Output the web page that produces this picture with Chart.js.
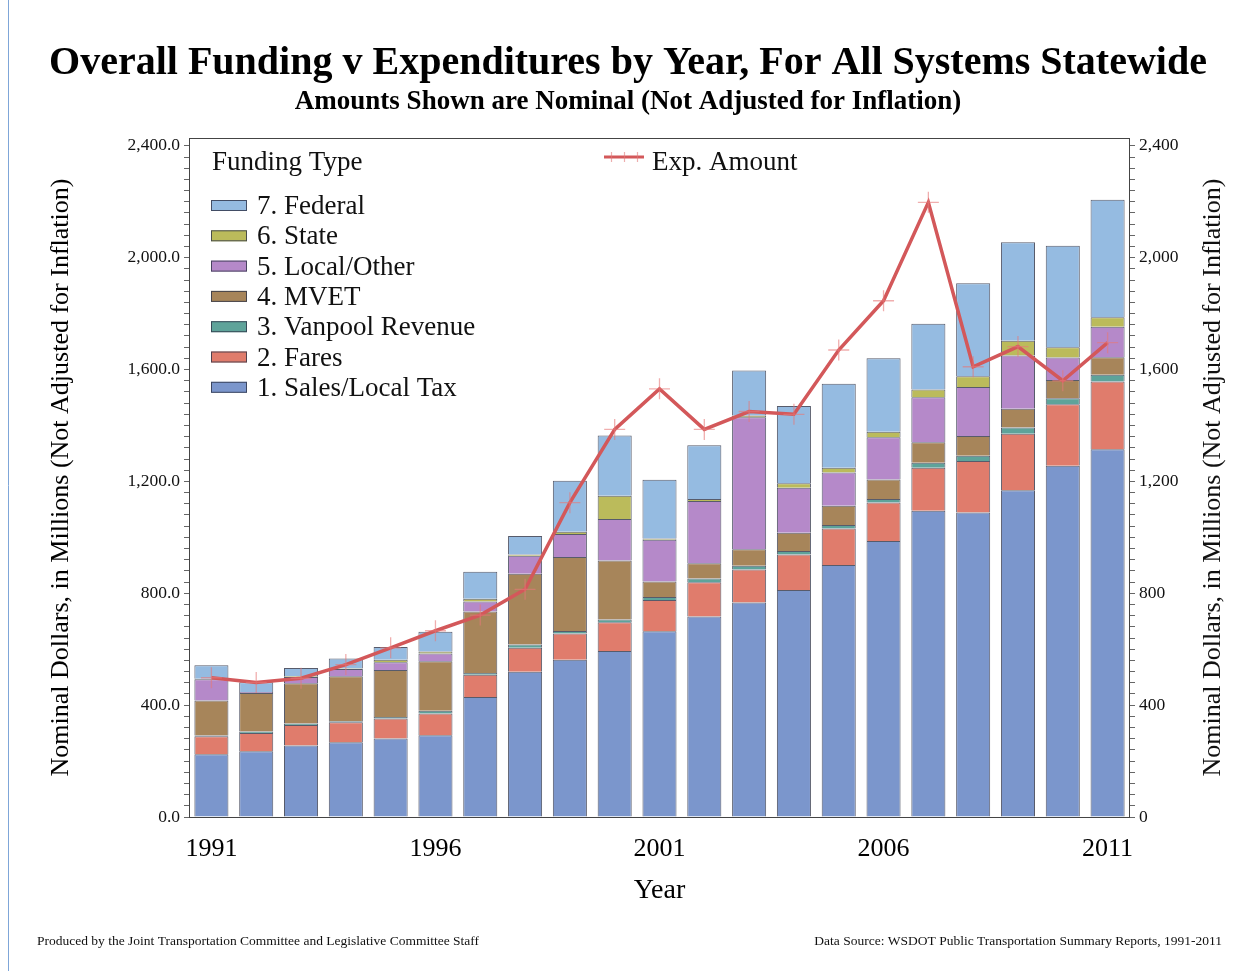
<!DOCTYPE html>
<html>
<head>
<meta charset="utf-8">
<script src="https://cdn.jsdelivr.net/npm/chart.js@4.4.0/dist/chart.umd.min.js"></script>
<style>
  html, body { margin: 0; padding: 0; background: #fff; }
  #wrap { width: 1256px; height: 971px; position: relative; }
</style>
</head>
<body>
<div id="wrap"><canvas id="fundingChart" width="1256" height="971"></canvas></div>
<script>
// values in $ millions
const years = [1991, 1992, 1993, 1994, 1995, 1996, 1997, 1998, 1999, 2000, 2001,
               2002, 2003, 2004, 2005, 2006, 2007, 2008, 2009, 2010, 2011];
const salesTax = [224, 235, 256, 267, 281, 292, 429, 519, 562, 594, 664, 717, 767, 812, 901, 987, 1095, 1089, 1168, 1256, 1315];
const fares    = [65, 65, 73, 72, 71, 78, 80, 86, 94, 102, 112, 122, 118, 127, 131, 138, 154, 184, 202, 220, 242];
const vanpool  = [2, 6, 5, 3, 6, 10, 6, 12, 9, 10, 11, 14, 13, 12, 12, 12, 18, 19, 23, 21, 24];
const mvet     = [126, 137, 144, 161, 168, 177, 220, 253, 265, 211, 55, 54, 59, 65, 69, 70, 73, 70, 67, 66, 63];
const localOther = [76, 4, 23, 26, 27, 28, 36, 64, 82, 149, 149, 223, 472, 161, 119, 151, 161, 176, 190, 80, 109];
const stateFund  = [1, 0, 2, 2, 9, 7, 9, 5, 8, 83, 5, 7, 7, 16, 17, 20, 28, 38, 53, 37, 34];
const federal    = [49, 35, 30, 36, 46, 70, 97, 66, 182, 215, 210, 192, 161, 277, 300, 262, 235, 333, 352, 363, 420];
const expAmount  = [498, 481, 496, 545, 605, 666, 722, 814, 1124, 1386, 1531, 1386, 1450, 1440, 1670, 1846, 2198, 1610, 1682, 1560, 1696];

const yMajorTicks = [0, 400, 800, 1200, 1600, 2000, 2400];
const yMinorStep = 40;
const yMax = 2428;
const xLabelYears = [1991, 1996, 2001, 2006, 2011];

const serif = "'Liberation Serif', 'Times New Roman', serif";
const barBorder = 'rgba(45,50,70,0.8)';

function barSet(label, data, color) {
  return {
    type: 'bar', label: label, data: data,
    backgroundColor: color, borderColor: barBorder, borderWidth: 1,
    barPercentage: 0.76, categoryPercentage: 1.0, order: 2, yAxisID: 'y'
  };
}

function buildTicks(scale) {
  const ticks = [];
  for (let v = 0; v <= yMajorTicks[yMajorTicks.length - 1]; v += yMinorStep) ticks.push({ value: v });
  scale.ticks = ticks;
}

// frame, legend, right axis title and footer notes
const decorPlugin = {
  id: 'decor',
  afterDraw(chart) {
    const ctx = chart.ctx;
    const a = chart.chartArea;
    ctx.save();
    ctx.strokeStyle = '#444';
    ctx.lineWidth = 1;
    ctx.strokeRect(a.left + 0.5, a.top + 0.5, a.right - a.left - 1, a.bottom - a.top);

    // left page edge
    ctx.strokeStyle = '#7fa6d8';
    ctx.beginPath(); ctx.moveTo(8.5, 0); ctx.lineTo(8.5, 971); ctx.stroke();

    // legend: funding types (top of stack first)
    ctx.fillStyle = '#111';
    ctx.textBaseline = 'middle';
    ctx.textAlign = 'left';
    ctx.font = '27px ' + serif;
    ctx.fillText('Funding Type', a.left + 23, 163);
    const bars = chart.data.datasets.filter(d => d.type === 'bar').slice().reverse();
    bars.forEach((d, i) => {
      const y = 206 + i * 30.3;
      ctx.fillStyle = d.backgroundColor;
      ctx.fillRect(a.left + 22, y - 6, 36, 11);
      ctx.strokeStyle = barBorder;
      ctx.strokeRect(a.left + 22.5, y - 5.5, 35, 10);
      ctx.fillStyle = '#111';
      ctx.fillText(d.label, a.left + 68, y + 1);
    });

    // legend: expenditure line
    const line = chart.data.datasets.find(d => d.type === 'line');
    ctx.strokeStyle = line.borderColor;
    ctx.lineWidth = 3;
    ctx.beginPath(); ctx.moveTo(604, 157); ctx.lineTo(644, 157); ctx.stroke();
    ctx.strokeStyle = 'rgba(225,120,120,0.6)';
    ctx.lineWidth = 1.2;
    [611, 624, 637].forEach(x => { ctx.beginPath(); ctx.moveTo(x + 0.5, 152); ctx.lineTo(x + 0.5, 162); ctx.stroke(); });
    ctx.fillStyle = '#111';
    ctx.fillText(line.label, 652, 163);

    // right axis title
    ctx.save();
    ctx.translate(1213, (a.top + a.bottom) / 2);
    ctx.rotate(-Math.PI / 2);
    ctx.textAlign = 'center';
    ctx.font = '26px ' + serif;
    ctx.fillText('Nominal Dollars, in Millions (Not Adjusted for Inflation)', 0, 0);
    ctx.restore();

    // footer
    ctx.font = '13.5px ' + serif;
    ctx.fillStyle = '#111';
    ctx.textAlign = 'left';
    ctx.fillText('Produced by the Joint Transportation Committee and Legislative Committee Staff', 37, 941);
    ctx.textAlign = 'right';
    ctx.fillText('Data Source: WSDOT Public Transportation Summary Reports, 1991-2011', 1222, 941);
    ctx.restore();
  }
};

const ctx = document.getElementById('fundingChart').getContext('2d');
const fundingChart = new Chart(ctx, {
  data: {
    labels: years,
    datasets: [
      barSet('1. Sales/Local Tax', salesTax, '#7b96cc'),
      barSet('2. Fares', fares, '#e07c6c'),
      barSet('3. Vanpool Revenue', vanpool, '#5ea39a'),
      barSet('4. MVET', mvet, '#a7855a'),
      barSet('5. Local/Other', localOther, '#b589c9'),
      barSet('6. State', stateFund, '#bbbb5b'),
      barSet('7. Federal', federal, '#95bbe1'),
      {
        type: 'line', label: 'Exp. Amount', data: expAmount, yAxisID: 'y2', order: 1,
        borderColor: '#d3585a', borderWidth: 3.5, tension: 0,
        pointStyle: 'cross', pointRadius: 10.5, pointBorderWidth: 1.3,
        pointBorderColor: 'rgba(230,120,120,0.6)', pointBackgroundColor: 'rgba(230,120,120,0.6)'
      }
    ]
  },
  options: {
    responsive: false,
    animation: false,
    layout: { padding: { left: 0, right: 0, top: 0, bottom: 0 } },
    plugins: {
      legend: { display: false },
      tooltip: { enabled: false },
      title: {
        display: true,
        text: 'Overall Funding v Expenditures by Year, For All Systems Statewide',
        color: '#000',
        font: { family: serif, size: 40, weight: 'bold', lineHeight: 1.1 },
        padding: { top: 42, bottom: 0 }
      },
      subtitle: {
        display: true,
        text: 'Amounts Shown are Nominal (Not Adjusted for Inflation)',
        color: '#000',
        font: { family: serif, size: 27, weight: 'bold' },
        padding: { top: 0, bottom: 19.6 }
      }
    },
    scales: {
      x: {
        stacked: true,
        grid: { display: false, drawTicks: false },
        border: { display: false },
        ticks: {
          autoSkip: false, maxRotation: 0, padding: 17, color: '#000',
          font: { family: serif, size: 26 },
          callback: function(value, index) {
            const yr = years[index];
            return xLabelYears.includes(yr) ? String(yr) : '';
          }
        },
        title: {
          display: true, text: 'Year', color: '#000',
          font: { family: serif, size: 28 },
          padding: { top: 0, bottom: 64 }
        },
        afterFit: function(scale) { scale.height = 154; }
      },
      y: {
        stacked: true,
        min: 0, max: yMax,
        position: 'left',
        afterBuildTicks: buildTicks,
        grid: { drawOnChartArea: false, tickLength: 5, color: '#666' },
        border: { display: false },
        ticks: {
          autoSkip: false, padding: 4, color: '#111',
          font: { family: serif, size: 17.5 },
          callback: function(value) {
            return yMajorTicks.includes(value)
              ? value.toLocaleString('en-US', { minimumFractionDigits: 1, maximumFractionDigits: 1 })
              : '';
          }
        },
        title: {
          display: true, text: 'Nominal Dollars, in Millions (Not Adjusted for Inflation)',
          color: '#000', font: { family: serif, size: 26 },
          padding: { top: 46, bottom: 0 }
        },
        afterFit: function(scale) { scale.width = 189; }
      },
      y2: {
        min: 0, max: yMax,
        position: 'right',
        afterBuildTicks: buildTicks,
        grid: { drawOnChartArea: false, tickLength: 5, color: '#666' },
        border: { display: false },
        ticks: {
          autoSkip: false, padding: 4, color: '#111',
          font: { family: serif, size: 17.5 },
          callback: function(value) {
            return yMajorTicks.includes(value) ? value.toLocaleString('en-US') : '';
          }
        },
        afterFit: function(scale) { scale.width = 126; }
      }
    }
  },
  plugins: [decorPlugin]
});
</script>
</body>
</html>
